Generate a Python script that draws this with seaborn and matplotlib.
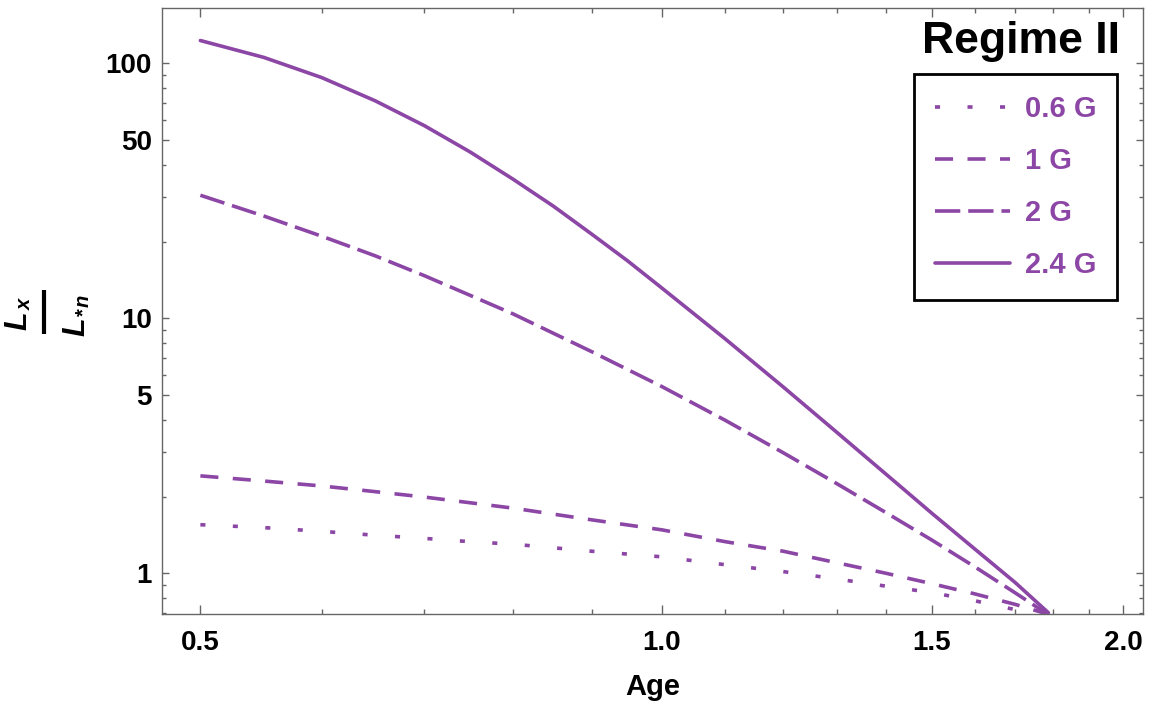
import pandas as pd
import seaborn as sns
import matplotlib.pyplot as plt
import matplotlib.ticker as mticker
from matplotlib.lines import Line2D

# values (log-log plot)
fields = ["0.6 G", "1 G", "2 G", "2.4 G"]

age_06 = [0.5, 0.55, 0.6, 0.65, 0.7, 0.75, 0.8, 0.9, 1.0, 1.1, 1.2, 1.3, 1.4, 1.5, 1.6, 1.7, 1.76]
lum_06 = [1.55, 1.51, 1.46, 1.41, 1.37, 1.33, 1.30, 1.22, 1.16, 1.08, 1.015, 0.95, 0.89, 0.84, 0.78, 0.72, 0.69]

age_1 = [0.5, 0.55, 0.6, 0.65, 0.7, 0.75, 0.8, 0.9, 1.0, 1.1, 1.2, 1.3, 1.4, 1.5, 1.6, 1.7, 1.78]
lum_1 = [2.41, 2.30, 2.20, 2.09, 1.99, 1.89, 1.80, 1.62, 1.48, 1.33, 1.22, 1.10, 1.00, 0.91, 0.83, 0.755, 0.695]

age_2 = [0.5, 0.55, 0.6, 0.65, 0.7, 0.75, 0.8, 0.9, 1.0, 1.1, 1.2, 1.3, 1.4, 1.5, 1.6, 1.7, 1.783]
lum_2 = [30.4, 25.2, 21.0, 17.6, 14.7, 12.3, 10.4, 7.4, 5.4, 3.98, 2.97, 2.25, 1.73, 1.35, 1.06, 0.838, 0.694]

age_24 = [0.5, 0.55, 0.6, 0.65, 0.7, 0.75, 0.8, 0.85, 0.9, 0.95, 1.0, 1.1, 1.2, 1.3, 1.4, 1.5, 1.6, 1.7, 1.787]
lum_24 = [123, 105.6, 88.0, 71.4, 57.0, 44.9, 35.1, 27.5, 21.4, 16.8, 13.15, 8.3, 5.38, 3.58, 2.45, 1.72, 1.245, 0.92, 0.70]

x_major = [0.5, 1.0, 1.5, 2.0]
x_labels = ["0.5", "1.0", "1.5", "2.0"]
x_minor = [0.6, 0.7, 0.8, 0.9, 1.1, 1.2, 1.3, 1.4, 1.6, 1.7, 1.8, 1.9]
y_major = [1, 5, 10, 50, 100]
y_labels = ["1", "5", "10", "50", "100"]
y_minor = [0.7, 0.8, 0.9, 2, 3, 4, 6, 7, 8, 9, 20, 30, 40, 60, 70, 80, 90]

purple = "#8c46a5"
gray = "#666666"

df = pd.concat([
    pd.DataFrame({"Age": age_06, "L": lum_06, "field": "0.6 G"}),
    pd.DataFrame({"Age": age_1, "L": lum_1, "field": "1 G"}),
    pd.DataFrame({"Age": age_2, "L": lum_2, "field": "2 G"}),
    pd.DataFrame({"Age": age_24, "L": lum_24, "field": "2.4 G"}),
], ignore_index=True)

sns.set_style("ticks")
plt.rcParams["font.family"] = ["Liberation Sans", "DejaVu Sans"]
plt.rcParams["font.weight"] = "bold"
plt.rcParams["text.color"] = "black"
plt.rcParams["axes.labelcolor"] = "black"

W, H = 1152, 708
fig, ax = plt.subplots(figsize=(W / 100, H / 100), dpi=100)
fig.subplots_adjust(left=162 / W, right=1143 / W, bottom=1 - 614 / H, top=1 - 8 / H)

dash_map = {"0.6 G": (1.4, 7.6), "1 G": (5, 4), "2 G": (7, 2.2), "2.4 G": ""}
sns.lineplot(data=df, x="Age", y="L", style="field", style_order=fields, dashes=dash_map,
             color=purple, linewidth=2.6, estimator=None, sort=False, legend=False, ax=ax)

ax.set_xscale("log")
ax.set_yscale("log")
ax.set_xlim(0.472, 2.06)
ax.set_ylim(0.692, 165)

ax.xaxis.set_major_locator(mticker.FixedLocator(x_major))
ax.xaxis.set_major_formatter(mticker.FixedFormatter(x_labels))
ax.xaxis.set_minor_locator(mticker.FixedLocator(x_minor))
ax.xaxis.set_minor_formatter(mticker.NullFormatter())
ax.yaxis.set_major_locator(mticker.FixedLocator(y_major))
ax.yaxis.set_major_formatter(mticker.FixedFormatter(y_labels))
ax.yaxis.set_minor_locator(mticker.FixedLocator(y_minor))
ax.yaxis.set_minor_formatter(mticker.NullFormatter())

ax.tick_params(which="both", direction="in", top=True, right=True, color=gray, width=1,
               labelcolor="black")
ax.tick_params(axis="x", which="major", length=6.5, pad=11.5, labelsize=20)
ax.tick_params(axis="x", which="minor", length=3.3)
ax.tick_params(axis="y", which="major", length=5, pad=7.2, labelsize=20)
ax.tick_params(axis="y", which="minor", length=3)
for s in ax.spines.values():
    s.set_color(gray)
    s.set_linewidth(1)

ax.set_xlabel("Age", fontsize=21, fontweight="bold")
ax.xaxis.set_label_coords(0.5, -0.0974)
ax.set_ylabel("")


# rotated fraction L_x / L_*n, built from pieces (pixel positions -> figure fraction)
def ftext(px, py, s, size, **kw):
    fig.text(px / W, 1 - py / H, s, fontsize=size, rotation=90, rotation_mode="anchor",
             ha="left", va="baseline", fontweight="bold", **kw)


ftext(26, 330, "L", 22, style="italic")
ftext(31, 310, "x", 14.5, style="italic")
fig.add_artist(Line2D([44 / W, 44 / W], [1 - 290 / H, 1 - 334 / H], transform=fig.transFigure,
                      color="black", lw=3, solid_capstyle="butt"))
ftext(84, 336, "L", 22, style="italic")
ftext(89, 316, "*", 14.5)
ftext(89, 307, "n", 14.5, style="italic")

ax.text(0.9766, 0.9257, "Regime II", transform=ax.transAxes, ha="right", va="baseline",
        fontsize=32, fontweight="bold", color="black")

leg = ax.legend(ax.get_lines()[:4], fields, loc="upper right", bbox_to_anchor=(0.9735, 0.8911),
                borderaxespad=0, frameon=True, fancybox=False, edgecolor="black", framealpha=1,
                prop={"weight": "bold", "size": 21}, handlelength=2.57, handletextpad=0.51,
                labelspacing=0.82, borderpad=0.72, labelcolor=purple)
leg.get_frame().set_linewidth(2)

plt.savefig("out.png", dpi=100)
